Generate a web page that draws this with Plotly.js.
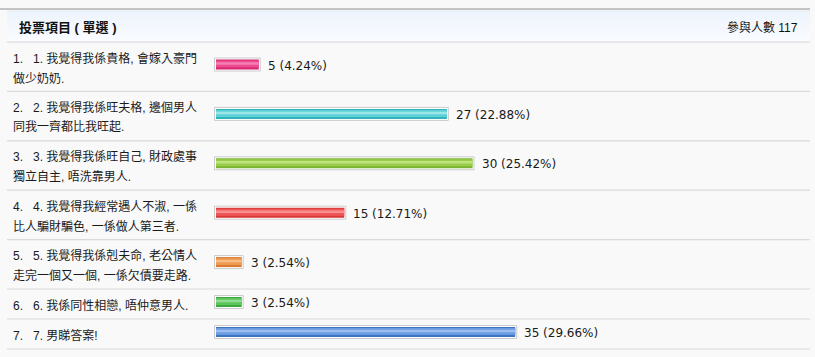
<!DOCTYPE html>
<html>
<head>
<meta charset="utf-8">
<script src="https://cdn.plot.ly/plotly-3.0.1.min.js"></script>
<style>
  html, body { margin: 0; padding: 0; background: #f9f9f9; }
  #chart { width: 815px; height: 357px; }
</style>
</head>
<body>
<div id="chart"></div>
<script>
// ---------- data ----------
const headerTitle = "投票項目 ( 單選 )";
const participantsLabel = "參與人數";
const participants = 117;
const optionLines = [
  ["1.&nbsp;&nbsp;&nbsp;1. 我覺得我係貴格, 會嫁入豪門", "做少奶奶."],
  ["2.&nbsp;&nbsp;&nbsp;2. 我覺得我係旺夫格, 邊個男人", "同我一齊都比我旺起."],
  ["3.&nbsp;&nbsp;&nbsp;3. 我覺得我係旺自己, 財政處事", "獨立自主, 唔洗靠男人."],
  ["4.&nbsp;&nbsp;&nbsp;4. 我覺得我經常遇人不淑, 一係", "比人騙財騙色, 一係做人第三者."],
  ["5.&nbsp;&nbsp;&nbsp;5. 我覺得我係剋夫命, 老公情人", "走完一個又一個, 一係欠債要走路."],
  ["6.&nbsp;&nbsp;&nbsp;6. 我係同性相戀, 唔仲意男人."],
  ["7.&nbsp;&nbsp;&nbsp;7. 男睇答案!"]
];
const votes = [5, 27, 30, 15, 3, 3, 35];
const percents = ["4.24", "22.88", "25.42", "12.71", "2.54", "2.54", "29.66"];

// ---------- styles ----------
const barDark  = ["#d6246e", "#2fb3bc", "#79b52f", "#d93636", "#d9782e", "#3aa83a", "#3f73c2"];
const barMid   = ["#ec4b90", "#5dd0d6", "#98cc4a", "#ef5858", "#ee9a50", "#5cc45c", "#6a9be0"];
const barLight = ["#f57fb2", "#9be6e9", "#bde27f", "#f99090", "#f8bd85", "#93dc93", "#9dbff0"];

const W = 815, H = 357;
const X0 = 216, PX_PER_VOTE = 8.55;
const headerTop = 11, headerBottom = 42;
const lineLeft = 7, lineRight = 810;
const textFont = "'DejaVu Sans', 'Noto Sans CJK TC', sans-serif";
const cjkFont = "'Liberation Sans', 'Noto Sans CJK TC', sans-serif";

// row layout derived from number of label lines
const rowTops = [];
let t = headerBottom;
optionLines.forEach(lines => { rowTops.push(t); t += lines.length === 2 ? 49.4 : 30; });
const rowBottoms = rowTops.map((top, i) => top + (optionLines[i].length === 2 ? 49.4 : 30));
const barCenters = rowTops.map((top, i) => optionLines[i].length === 2 ? top + 22.5 : top + 13);

const padVotes = 1.5 / PX_PER_VOTE;

const traces = [
  { // frame
    type: "bar", orientation: "h",
    x: votes.map(v => v + 2 * padVotes), base: votes.map(() => -padVotes), y: barCenters,
    width: 13, marker: { color: "#ffffff", line: { color: "#cbcbcb", width: 1 } },
    hoverinfo: "skip", showlegend: false
  },
  { // dark fill
    type: "bar", orientation: "h",
    x: votes, base: votes.map(() => 0), y: barCenters,
    width: 10, marker: { color: barDark, line: { width: 0 } },
    hoverinfo: "skip", showlegend: false
  },
  { // mid fill
    type: "bar", orientation: "h",
    x: votes, base: votes.map(() => 0), y: barCenters.map(c => c - 0.5),
    width: 7, marker: { color: barMid, line: { width: 0 } },
    hoverinfo: "skip", showlegend: false
  },
  { // light stripe
    type: "bar", orientation: "h",
    x: votes, base: votes.map(() => 0), y: barCenters.map(c => c - 1),
    width: 2.5, marker: { color: barLight, line: { width: 0 } },
    hoverinfo: "skip", showlegend: false
  }
];

const shapes = [];
// header gradient bands
const nBands = 10;
for (let b = 0; b < nBands; b++) {
  const f = b / (nBands - 1);
  const r = Math.round(236 + (250 - 236) * f);
  const g = Math.round(244 + (252 - 244) * f);
  const bl = Math.round(252 + (255 - 252) * f);
  const y0 = headerTop + (headerBottom - headerTop) * b / nBands;
  const y1 = headerTop + (headerBottom - headerTop) * (b + 1) / nBands;
  shapes.push({ type: "rect", xref: "paper", yref: "y", layer: "below",
    x0: lineLeft / W, x1: lineRight / W, y0: y0, y1: y1 + 0.5,
    fillcolor: `rgb(${r},${g},${bl})`, line: { width: 0 } });
}
// top line
shapes.push({ type: "line", xref: "paper", yref: "y", x0: 0, x1: lineRight / W, y0: 9, y1: 9,
  line: { color: "#c4c4c4", width: 2 } });
// header border
shapes.push({ type: "line", xref: "paper", yref: "y", x0: lineLeft / W, x1: lineRight / W, y0: headerTop, y1: headerTop,
  line: { color: "#e4ebf2", width: 1 } });
shapes.push({ type: "line", xref: "paper", yref: "y", x0: lineLeft / W, x1: lineRight / W, y0: headerBottom, y1: headerBottom,
  line: { color: "#d6d6d6", width: 1.2 } });
// row separators
rowBottoms.forEach(yb => {
  shapes.push({ type: "line", xref: "paper", yref: "y", x0: lineLeft / W, x1: lineRight / W, y0: yb, y1: yb,
    line: { color: "#dadada", width: 1.2 } });
});

const annotations = [];
annotations.push({ xref: "paper", yref: "y", x: 17 / W, y: (headerTop + headerBottom) / 2 + 0.5,
  xanchor: "left", yanchor: "middle", showarrow: false, text: "<b>" + headerTitle + "</b>",
  font: { family: cjkFont, size: 13, color: "#111111" } });
annotations.push({ xref: "paper", yref: "y", x: 800 / W, y: (headerTop + headerBottom) / 2 + 0.5,
  xanchor: "right", yanchor: "middle", showarrow: false, text: participantsLabel + " " + participants,
  font: { family: cjkFont, size: 12, color: "#111111" } });

optionLines.forEach((lines, i) => {
  lines.forEach((ln, k) => {
    annotations.push({ xref: "paper", yref: "y", x: 11 / W, y: rowTops[i] + 16 + 20 * k,
      xanchor: "left", yanchor: "middle", showarrow: false, text: ln,
      font: { family: cjkFont, size: 12, color: "#1a1a1a" } });
  });
  annotations.push({ xref: "x", yref: "y", x: votes[i], y: barCenters[i] + 1,
    xanchor: "left", yanchor: "middle", xshift: 7, showarrow: false,
    text: votes[i] + " (" + percents[i] + "%)",
    font: { family: textFont, size: 12, color: "#1a1a1a" } });
});

const layout = {
  width: W, height: H,
  margin: { l: 0, r: 0, t: 0, b: 0 },
  paper_bgcolor: "#f9f9f9", plot_bgcolor: "rgba(0,0,0,0)",
  barmode: "overlay",
  xaxis: { range: [-X0 / PX_PER_VOTE, (W - X0) / PX_PER_VOTE], visible: false, fixedrange: true },
  yaxis: { range: [H, 0], visible: false, fixedrange: true },
  shapes: shapes, annotations: annotations,
  showlegend: false
};

Plotly.newPlot("chart", traces, layout, { staticPlot: true, displayModeBar: false });
</script>
</body>
</html>
